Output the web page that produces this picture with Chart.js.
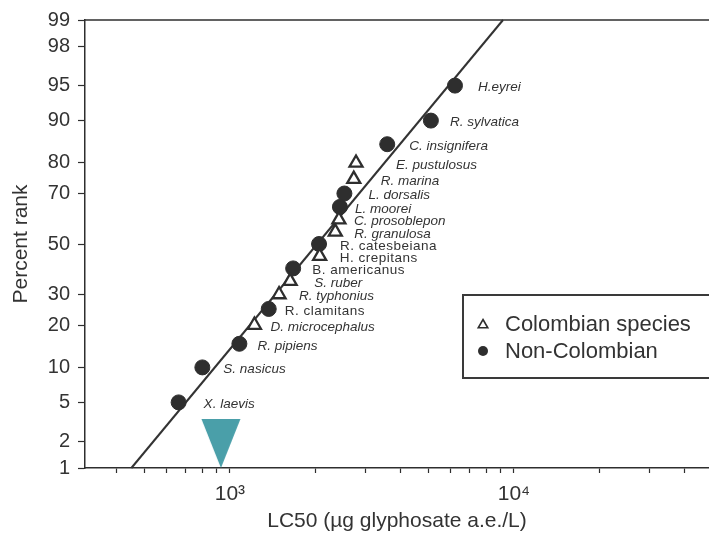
<!DOCTYPE html>
<html>
<head>
<meta charset="utf-8">
<script src="https://cdn.jsdelivr.net/npm/chart.js@4.4.1/dist/chart.umd.min.js"></script>
<style>
  html, body { margin: 0; padding: 0; background: #ffffff; overflow: hidden; }
  #wrap { width: 709px; height: 539px; position: relative; }
</style>
</head>
<body>
<div id="wrap"><canvas id="chart" width="709" height="539"></canvas></div>
<script>
// ---------------- DATA ----------------
const colombianSpecies = ['E. pustulosus', 'R. marina', 'C. prosoblepon', 'R. granulosa', 'H. crepitans', 'S. ruber', 'R. typhonius', 'D. microcephalus'];
const colombianLC50 = [2780, 2730, 2420, 2350, 2070, 1630, 1490, 1220];
const colombianRank = [80, 75, 60, 55, 45, 35, 30, 20];

const nonColombianSpecies = ['H.eyrei', 'R. sylvatica', 'C. insignifera', 'L. dorsalis', 'L. moorei', 'R. catesbeiana', 'B. americanus', 'R. clamitans', 'R. pipiens', 'S. nasicus', 'X. laevis'];
const nonColombianLC50 = [6200, 5100, 3580, 2530, 2440, 2060, 1670, 1370, 1080, 800, 660];
const nonColombianRank = [95, 90, 85, 70, 65, 50, 40, 25, 15, 10, 5];

const fitLC50 = [450, 9150];
const fitRank = [1, 99];

const markerLC50 = [930];
const markerRank = [1];

const yTickValues = [1, 2, 5, 10, 20, 30, 50, 70, 80, 90, 95, 98, 99];
const xTickValues = [400, 500, 600, 700, 800, 900, 1000, 2000, 3000, 4000, 5000, 6000, 7000, 8000, 9000, 10000, 20000, 30000, 40000];
const xTickLabels = { 1000: '10\u00B3', 10000: '10\u2074' };

const legendLabels = ['Colombian species', 'Non-Colombian'];
const xTitle = 'LC50 (\u00B5g glyphosate a.e./L)';
const yTitle = 'Percent rank';

// --------------- STYLE / LAYOUT (not data) ---------------
const INK = '#2e2e2e';
const TEAL = '#4a9fa9';
const FONT = "'Liberation Sans', Arial, sans-serif";
// label x offsets (px) beside each point
const colombianLabelDx = [40, 27, 15, 19, 20, 24, 20, 16];
const nonColombianLabelDx = [23, 19, 22, 24, 15, 21, 19, 16, 18, 21, 25];
const uprightLabels = new Set(['R. catesbeiana', 'H. crepitans', 'B. americanus', 'R. clamitans']);

// --------------- PROBIT SCALE ---------------
function probit(p) {
  const a=[-3.969683028665376e+01,2.209460984245205e+02,-2.759285104469687e+02,1.383577518672690e+02,-3.066479806614716e+01,2.506628277459239e+00];
  const b=[-5.447609879822406e+01,1.615858368580409e+02,-1.556989798598866e+02,6.680131188771972e+01,-1.328068155288572e+01];
  const c=[-7.784894002430293e-03,-3.223964580411365e-01,-2.400758277161838e+00,-2.549732539343734e+00,4.374664141464968e+00,2.938163982698783e+00];
  const d=[7.784695709041462e-03,3.224671290700398e-01,2.445134137142996e+00,3.754408661907416e+00];
  const pl = 0.02425, ph = 1 - pl;
  let q, r;
  if (p < pl) { q = Math.sqrt(-2*Math.log(p)); return (((((c[0]*q+c[1])*q+c[2])*q+c[3])*q+c[4])*q+c[5])/((((d[0]*q+d[1])*q+d[2])*q+d[3])*q+1); }
  if (p > ph) { q = Math.sqrt(-2*Math.log(1-p)); return -(((((c[0]*q+c[1])*q+c[2])*q+c[3])*q+c[4])*q+c[5])/((((d[0]*q+d[1])*q+d[2])*q+d[3])*q+1); }
  q = p - 0.5; r = q*q;
  return (((((a[0]*r+a[1])*r+a[2])*r+a[3])*r+a[4])*r+a[5])*q/(((((b[0]*r+b[1])*r+b[2])*r+b[3])*r+b[4])*r+1);
}
function normCdf(z) {
  const t = 1/(1+0.2316419*Math.abs(z));
  const dd = 0.3989423*Math.exp(-z*z/2);
  let p = dd*t*(0.3193815+t*(-0.3565638+t*(1.781478+t*(-1.821256+t*1.330274))));
  return z > 0 ? 1 - p : p;
}

class ProbitScale extends Chart.Scale {
  determineDataLimits() {
    this.min = this.options.min;
    this.max = this.options.max;
  }
  buildTicks() {
    return yTickValues.map(v => ({ value: v }));
  }
  configure() {
    super.configure();
    this._zStart = probit(this.min / 100);
    this._zEnd = probit(this.max / 100);
  }
  getLabelForValue(v) { return String(v); }
  getPixelForValue(v) {
    if (v === null || v === undefined || isNaN(v)) return NaN;
    const z = probit(v / 100);
    return this.getPixelForDecimal((z - this._zStart) / (this._zEnd - this._zStart));
  }
  getValueForPixel(px) {
    const dec = this.getDecimalForPixel(px);
    return 100 * normCdf(this._zStart + dec * (this._zEnd - this._zStart));
  }
}
ProbitScale.id = 'probit';
ProbitScale.defaults = {};
Chart.register(ProbitScale);

// --------------- MARKER IMAGE (inverted triangle, tip at centre) ---------------
function makeMarker() {
  const w = 40, h = 98;
  const cv = document.createElement('canvas');
  cv.width = w; cv.height = h;
  const g = cv.getContext('2d');
  g.fillStyle = TEAL;
  g.beginPath();
  g.moveTo(0.5, 0);
  g.lineTo(w - 0.5, 0);
  g.lineTo(w / 2, h / 2);
  g.closePath();
  g.fill();
  return cv;
}

// --------------- PLUGINS ---------------
const speciesLabelPlugin = {
  id: 'speciesLabels',
  afterDatasetsDraw(chart) {
    const ctx = chart.ctx;
    ctx.save();
    ctx.fillStyle = '#333333';
    ctx.textBaseline = 'middle';
    ctx.textAlign = 'left';
    const sets = [
      { idx: 0, names: colombianSpecies, dx: colombianLabelDx },
      { idx: 1, names: nonColombianSpecies, dx: nonColombianLabelDx }
    ];
    sets.forEach(s => {
      const meta = chart.getDatasetMeta(s.idx);
      meta.data.forEach((el, i) => {
        const name = s.names[i];
        const upright = uprightLabels.has(name);
        ctx.font = (upright ? '' : 'italic ') + '13.5px ' + FONT;
        if ('letterSpacing' in ctx) ctx.letterSpacing = upright ? '0.5px' : '0px';
        ctx.fillText(name, el.x + s.dx[i], el.y + 2);
      });
    });
    ctx.restore();
  }
};

const framePlugin = {
  id: 'frameTop',
  afterDraw(chart) {
    const { ctx, chartArea } = chart;
    ctx.save();
    ctx.strokeStyle = INK;
    ctx.lineWidth = 1.5;
    ctx.beginPath();
    ctx.moveTo(chartArea.left, chartArea.top);
    ctx.lineTo(chartArea.right + 5, chartArea.top);
    ctx.stroke();
    ctx.restore();
  }
};

const boxLegendPlugin = {
  id: 'boxLegend',
  afterDraw(chart) {
    const ctx = chart.ctx;
    ctx.save();
    ctx.strokeStyle = '#3a3a3a';
    ctx.lineWidth = 2;
    ctx.strokeRect(463, 295, 260, 83);
    ctx.strokeStyle = INK;
    ctx.lineWidth = 1.6;
    const tx = 483, ty = 325, r = 5.5;
    ctx.beginPath();
    ctx.moveTo(tx, ty - r);
    ctx.lineTo(tx + r * 0.866, ty + r * 0.5);
    ctx.lineTo(tx - r * 0.866, ty + r * 0.5);
    ctx.closePath();
    ctx.stroke();
    ctx.fillStyle = INK;
    ctx.beginPath();
    ctx.arc(483, 351, 5, 0, Math.PI * 2);
    ctx.fill();
    ctx.fillStyle = '#333333';
    ctx.font = '22px ' + FONT;
    ctx.textBaseline = 'middle';
    ctx.textAlign = 'left';
    ctx.fillText(legendLabels[0], 505, 325);
    ctx.fillText(legendLabels[1], 505, 352);
    ctx.restore();
  }
};

// --------------- CHART ---------------
const toXY = (xs, ys) => xs.map((x, i) => ({ x: x, y: ys[i] }));

new Chart(document.getElementById('chart'), {
  type: 'scatter',
  data: {
    datasets: [
      {
        label: legendLabels[0],
        data: toXY(colombianLC50, colombianRank),
        pointStyle: 'triangle',
        pointRadius: 7.5,
        pointBackgroundColor: '#ffffff',
        pointBorderColor: INK,
        pointBorderWidth: 2.3,
        order: 1
      },
      {
        label: legendLabels[1],
        data: toXY(nonColombianLC50, nonColombianRank),
        pointStyle: 'circle',
        pointRadius: 7.5,
        pointBackgroundColor: INK,
        pointBorderColor: INK,
        pointBorderWidth: 1,
        order: 1
      },
      {
        label: 'fit',
        data: toXY(fitLC50, fitRank),
        showLine: true,
        borderColor: '#333333',
        borderWidth: 2,
        pointRadius: 0,
        clip: false,
        order: 3
      },
      {
        label: 'marker',
        data: toXY(markerLC50, markerRank),
        pointStyle: makeMarker(),
        pointRadius: 2,
        clip: false,
        order: 2
      }
    ]
  },
  options: {
    responsive: false,
    animation: false,
    events: [],
    layout: { autoPadding: false, padding: { top: 20, right: 0, bottom: 0, left: 0 } },
    plugins: {
      legend: { display: false },
      tooltip: { enabled: false }
    },
    scales: {
      x: {
        type: 'logarithmic',
        position: 'bottom',
        min: 309,
        max: 48600,
        afterBuildTicks: s => { s.ticks = xTickValues.map(v => ({ value: v })); },
        afterFit: s => { s.height = 71; s.paddingLeft = 0; s.paddingRight = 0; },
        border: { display: true, color: INK, width: 1.5 },
        grid: { display: true, drawOnChartArea: false, drawTicks: true, tickLength: 5, color: INK, tickColor: INK, tickWidth: 1.2 },
        ticks: {
          autoSkip: false,
          maxRotation: 0,
          minRotation: 0,
          padding: 9,
          color: '#333333',
          font: { family: FONT, size: 21 },
          callback: v => xTickLabels[v] || ''
        },
        title: {
          display: true,
          text: xTitle,
          color: '#333333',
          font: { family: FONT, size: 21 },
          padding: { top: 0, bottom: 5 }
        }
      },
      y: {
        type: 'probit',
        position: 'left',
        min: 1,
        max: 99,
        afterFit: s => { s.width = 85; s.paddingTop = 0; s.paddingBottom = 0; },
        border: { display: true, color: INK, width: 1.5 },
        grid: { display: true, drawOnChartArea: false, drawTicks: true, tickLength: 7, color: INK, tickColor: INK, tickWidth: 1.2 },
        ticks: {
          autoSkip: false,
          padding: 8,
          color: '#333333',
          font: { family: FONT, size: 20 },
          callback: v => String(v)
        },
        title: {
          display: true,
          text: yTitle,
          color: '#333333',
          font: { family: FONT, size: 21 },
          padding: { top: 9, bottom: 0 }
        }
      }
    }
  },
  plugins: [speciesLabelPlugin, framePlugin, boxLegendPlugin]
});
</script>
</body>
</html>
